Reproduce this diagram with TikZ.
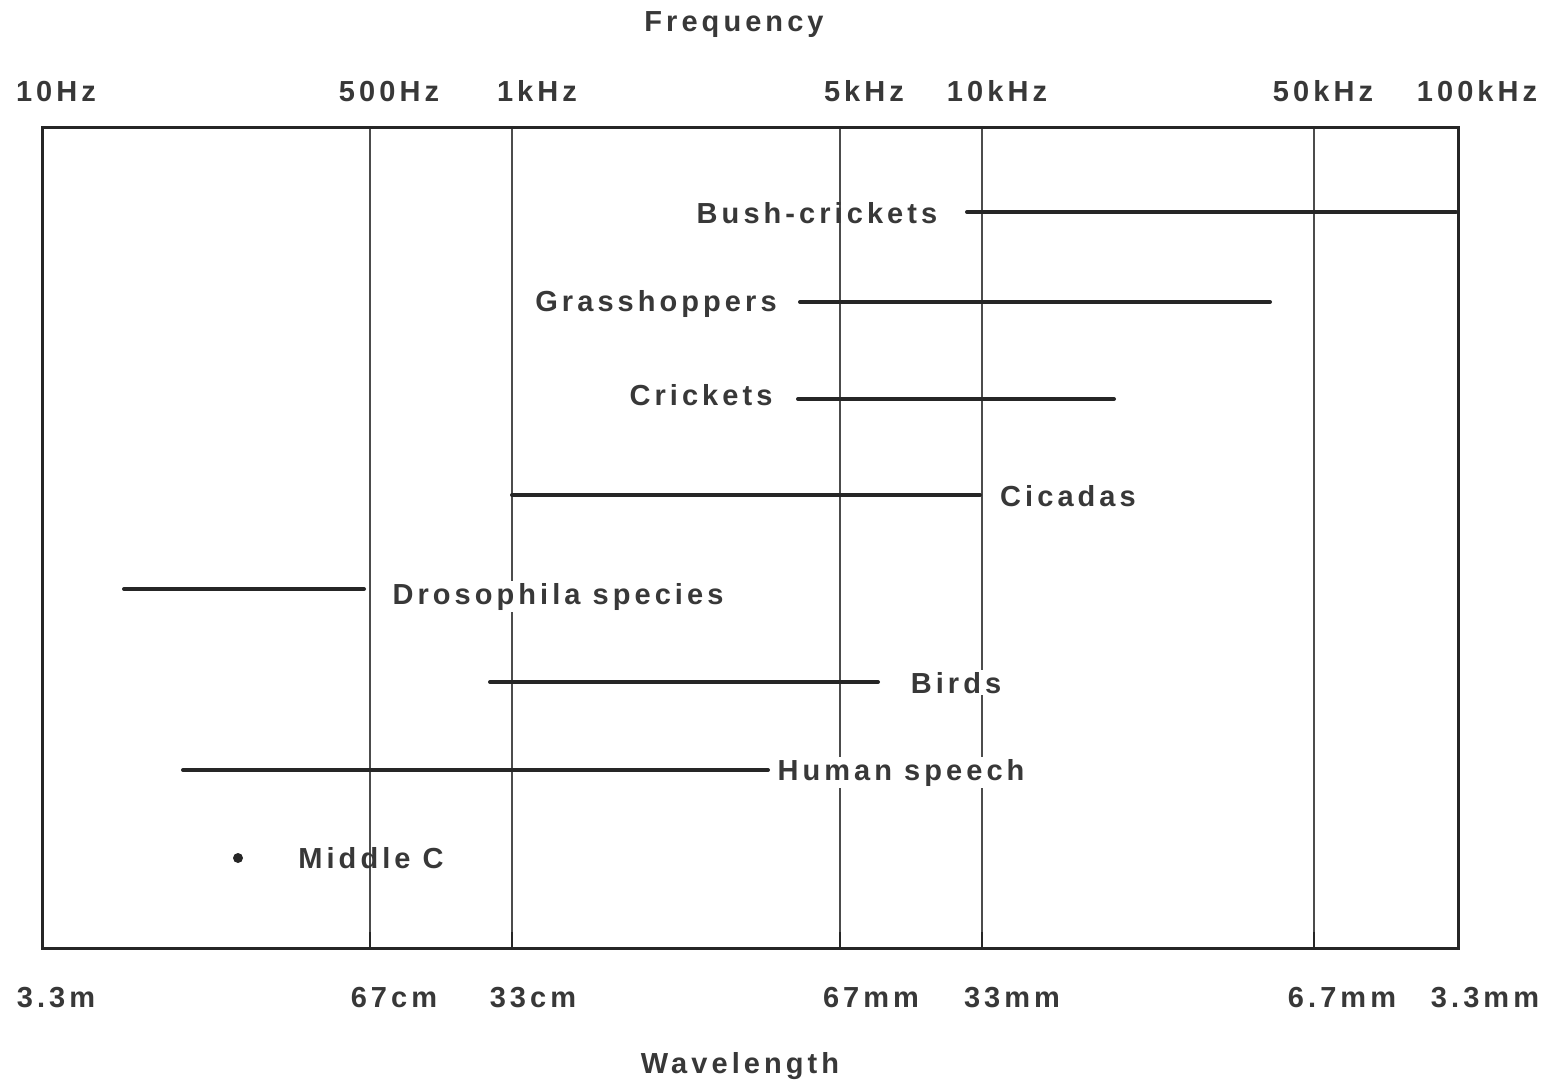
\documentclass[tikz,border=0pt]{standalone}
\usepackage{fontspec}
\setmainfont{Liberation Sans}
\newfontfamily\labfont[LetterSpace=14]{Liberation Sans}
\begin{document}
\begin{tikzpicture}[x=0.5pt,y=-0.5pt,
  lab/.style={font=\labfont\bfseries\fontsize{14.5}{16}\selectfont, text=black!78, inner sep=1pt, anchor=base},
  labw/.style={lab, fill=white},
  framebox/.style={line width=1.5pt, black!85},
  gridline/.style={line width=0.7pt, black!70},
  tickmark/.style={line width=1.4pt, black!85},
  rangeline/.style={line width=2pt, black!85, line cap=round}]
\useasboundingbox (0,0) rectangle (1552,1081);
% frame corners
\coordinate (tl) at (42,128);
\coordinate (br) at (1458,948);
% grid lines
\foreach \n/\x in {a/370,b/512,c/840,d/982,e/1314}{
  \coordinate (g\n t) at (\x,128);
  \coordinate (g\n b) at (\x,948);
  \coordinate (g\n k) at (\x,932);
  \draw[gridline] (g\n t) -- (g\n b);
  \draw[tickmark] (g\n k) -- (g\n b);
}
\draw[framebox] (tl) rectangle (br);
% axis labels
\node[lab] (freq) at (734,32) {Frequency};
\node[lab] (wave) at (740,1073) {Wavelength};
\node[lab] (f1) at (56,102) {10Hz};
\node[lab] (f2) at (389,102) {500Hz};
\node[lab] (f3) at (537,102) {1kHz};
\node[lab] (f4) at (864,102) {5kHz};
\node[lab] (f5) at (997,102) {10kHz};
\node[lab] (f6) at (1323,102) {50kHz};
\node[lab] (f7) at (1477,102) {100kHz};
\node[lab] (w1) at (56,1007) {3.3m};
\node[lab] (w2) at (394,1007) {67cm};
\node[lab] (w3) at (533,1007) {33cm};
\node[lab] (w4) at (871,1007) {67mm};
\node[lab] (w5) at (1012,1007) {33mm};
\node[lab] (w6) at (1342,1007) {6.7mm};
\node[lab] (w7) at (1485,1007) {3.3mm};
% ranges
\coordinate (bc1) at (967,212);  \coordinate (bc2) at (1456,212);
\coordinate (gh1) at (800,302);  \coordinate (gh2) at (1270,302);
\coordinate (cr1) at (798,399);  \coordinate (cr2) at (1114,399);
\coordinate (ci1) at (512,495);  \coordinate (ci2) at (980,495);
\coordinate (dr1) at (124,589);  \coordinate (dr2) at (364,589);
\coordinate (bi1) at (490,682);  \coordinate (bi2) at (878,682);
\coordinate (hs1) at (183,770);  \coordinate (hs2) at (768,770);
\foreach \r in {bc,gh,cr,ci,dr,bi,hs}{
  \draw[rangeline] (\r1) -- (\r2);
}
% range labels
\node[lab] (lbc) at (817,223) {Bush-crickets};
\node[labw] (lgh) at (656,311) {Grasshoppers};
\node[labw] (lcr) at (701,405) {Crickets};
\node[labw] (lci) at (1068,506) {Cicadas};
\node[labw] (ldr) at (558,604) {Drosophila species};
\node[labw] (lbi) at (956,693) {Birds};
\node[labw] (lhs) at (901,780) {Human speech};
\node[lab] (lmc) at (371,868) {Middle C};
\node[circle, fill=black!85, minimum size=5pt, inner sep=0pt] (mc) at (238,858) {};
\end{tikzpicture}
\end{document}
